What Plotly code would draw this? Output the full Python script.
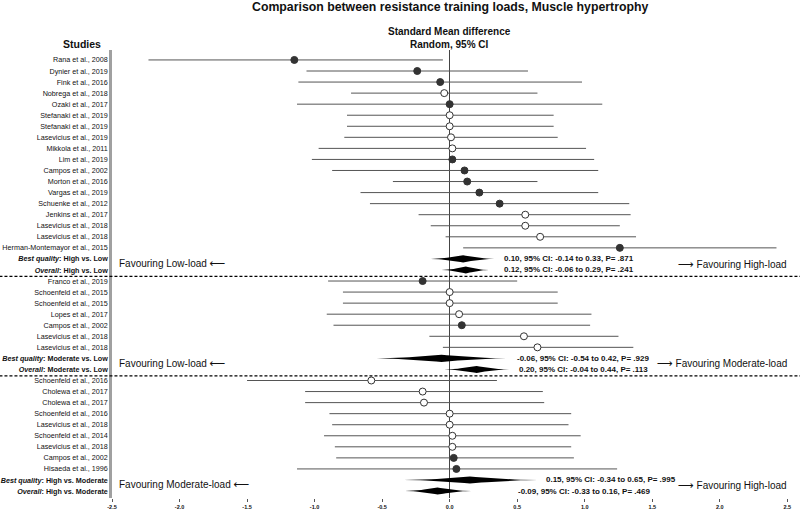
import plotly.graph_objects as go

# ---------------- data ----------------
studies = [
    "Rana et al., 2008", "Dynier et al., 2019", "Fink et al., 2016", "Nobrega et al., 2018",
    "Ozaki et al., 2017", "Stefanaki et al., 2019", "Stefanaki et al., 2019", "Lasevicius et al., 2019",
    "Mikkola et al., 2011", "Lim et al., 2019", "Campos et al., 2002", "Morton et al., 2016",
    "Vargas et al., 2019", "Schuenke et al., 2012", "Jenkins et al., 2017", "Lasevicius et al., 2018",
    "Lasevicius et al., 2018", "Herman-Montemayor et al., 2015",
    "Franco et al., 2019", "Schoenfeld et al., 2015", "Schoenfeld et al., 2015", "Lopes et al., 2017",
    "Campos et al., 2002", "Lasevicius et al., 2018", "Lasevicius et al., 2018",
    "Schoenfeld et al., 2016", "Cholewa et al., 2017", "Cholewa et al., 2017", "Schoenfeld et al., 2016",
    "Lasevicius et al., 2018", "Schoenfeld et al., 2014", "Lasevicius et al., 2018", "Campos et al., 2002",
    "Hisaeda et al., 1996",
]
group_sizes = [18, 7, 9]

smd = [-1.15, -0.24, -0.07, -0.04, 0.00, 0.00, 0.00, 0.01, 0.02, 0.02, 0.11, 0.13, 0.22, 0.37,
       0.56, 0.56, 0.67, 1.26,
       -0.20, 0.00, 0.00, 0.07, 0.09, 0.55, 0.65,
       -0.58, -0.20, -0.19, 0.00, 0.00, 0.02, 0.02, 0.03, 0.05]
ci_low = [-2.23, -1.06, -1.12, -0.73, -1.13, -0.76, -0.76, -0.78, -0.97, -1.02, -0.87, -0.42, -0.66, -0.59,
          -0.23, -0.14, -0.03, 0.10,
          -0.90, -0.79, -0.79, -0.91, -0.86, -0.15, -0.05,
          -1.50, -1.07, -1.07, -0.89, -0.87, -0.93, -0.85, -0.84, -1.13]
ci_high = [-0.05, 0.58, 0.98, 0.65, 1.13, 0.77, 0.77, 0.80, 1.01, 1.07, 1.10, 0.65, 1.10, 1.33,
           1.34, 1.26, 1.38, 2.42,
           0.50, 0.80, 0.80, 1.05, 1.04, 1.25, 1.36,
           0.35, 0.69, 0.70, 0.90, 0.88, 0.97, 0.90, 0.92, 1.24]
solid = [1, 1, 1, 0, 1, 0, 0, 0, 0, 1, 1, 1, 1, 1, 0, 0, 0, 1,
         1, 0, 0, 0, 1, 0, 0,
         0, 0, 0, 0, 0, 0, 0, 1, 1]

summary_kind = ["Best quality", "Overall", "Best quality", "Overall", "Best quality", "Overall"]
summary_comp = ["High vs. Low", "High vs. Low", "Moderate vs. Low", "Moderate vs. Low",
                "High vs. Moderate", "High vs. Moderate"]
summary_smd = [0.10, 0.12, -0.06, 0.20, 0.15, -0.09]
summary_low = [-0.14, -0.06, -0.54, -0.04, -0.34, -0.33]
summary_high = [0.33, 0.29, 0.42, 0.44, 0.65, 0.16]
summary_p = [".871", ".241", ".929", ".113", ".995", ".469"]

favour_left = ["Favouring Low-load", "Favouring Low-load", "Favouring Moderate-load"]
favour_right = ["Favouring High-load", "Favouring Moderate-load", "Favouring High-load"]

x_ticks = [-2.5, -2.0, -1.5, -1.0, -0.5, 0.0, 0.5, 1.0, 1.5, 2.0, 2.5]

# ---------------- layout of rows ----------------
FONT = "Liberation Sans, Arial, sans-serif"
ARROW = "font-family:DejaVu Sans;font-size:11px"
study_rows, summary_rows, dash_rows = [], [], []
row = 0
for g in group_sizes:
    for _ in range(g):
        study_rows.append(row)
        row += 1
    summary_rows += [row, row + 1]
    row += 2
    dash_rows.append(row - 0.42)
dash_rows = dash_rows[:-1]

tickvals = study_rows + summary_rows
ticktext = list(studies) + [f"<b><i>{a}</i>: {b}</b>" for a, b in zip(summary_kind, summary_comp)]

fig = go.Figure()

# CI lines
lx, ly = [], []
for r, lo, hi in zip(study_rows, ci_low, ci_high):
    lx += [lo, hi, None]
    ly += [r, r, None]
fig.add_trace(go.Scatter(x=lx, y=ly, mode="lines", line=dict(color="#555555", width=1),
                         hoverinfo="skip", showlegend=False))

# markers
fx = [v for v, s in zip(smd, solid) if s]
fy = [r for r, s in zip(study_rows, solid) if s]
ox = [v for v, s in zip(smd, solid) if not s]
oy = [r for r, s in zip(study_rows, solid) if not s]
fig.add_trace(go.Scatter(x=fx, y=fy, mode="markers", showlegend=False,
                         marker=dict(size=7, color="#333333", line=dict(color="#333333", width=1))))
fig.add_trace(go.Scatter(x=ox, y=oy, mode="markers", showlegend=False,
                         marker=dict(size=7, color="white", line=dict(color="#333333", width=1))))

# diamonds
h = 0.32
n = 12
for r, est, lo, hi in zip(summary_rows, summary_smd, summary_low, summary_high):
    xs, ys = [], []
    for i in range(n + 1):
        t = i / n
        xs.append(lo + (est - lo) * t)
        ys.append(r - h * t ** 1.7)
    for i in range(n, -1, -1):
        t = i / n
        xs.append(hi - (hi - est) * t)
        ys.append(r - h * t ** 1.7)
    for i in range(n + 1):
        t = i / n
        xs.append(hi - (hi - est) * t)
        ys.append(r + h * t ** 1.7)
    for i in range(n, -1, -1):
        t = i / n
        xs.append(lo + (est - lo) * t)
        ys.append(r + h * t ** 1.7)
    fig.add_trace(go.Scatter(x=xs, y=ys, mode="lines", fill="toself", fillcolor="black",
                             line=dict(width=0, color="black"), hoverinfo="skip", showlegend=False))

annotations = []
# summary statistics text
stat_x = [0.39, 0.39, 0.485, 0.50, 0.70, 0.49]
for r, est, lo, hi, p, sx in zip(summary_rows, summary_smd, summary_low, summary_high, summary_p, stat_x):
    annotations.append(dict(x=sx, y=r, xref="x", yref="y", xanchor="left", yanchor="middle",
                            text=f"<b>{est:.2f}, 95% CI: {lo:.2f} to {hi:.2f}, P= {p}</b>",
                            showarrow=False, font=dict(size=8, color="#111", family=FONT)))
# favouring labels
for gi, (fl, fr) in enumerate(zip(favour_left, favour_right)):
    ymid = (summary_rows[2 * gi] + summary_rows[2 * gi + 1]) / 2
    annotations.append(dict(x=0.008, y=ymid - 0.05, xref="paper", yref="y", xanchor="left", yanchor="middle",
                            text=f"{fl} <span style='{ARROW}'>⟵</span>", showarrow=False,
                            font=dict(size=10, color="#111", family=FONT)))
    annotations.append(dict(x=2.51, y=ymid, xref="x", yref="y", xanchor="right", yanchor="middle",
                            text=f"<span style='{ARROW}'>⟶</span> {fr}", showarrow=False,
                            font=dict(size=10, color="#111", family=FONT)))

annotations.append(dict(x=0, y=1.096, xref="x", yref="paper", xanchor="center", yanchor="middle",
                        text="<b>Comparison between resistance training loads, Muscle hypertrophy</b>",
                        showarrow=False, font=dict(size=12.3, color="#111", family=FONT)))
annotations.append(dict(x=0, y=1.027, xref="x", yref="paper", xanchor="center", yanchor="middle",
                        text="<b>Standard Mean difference<br>Random, 95% CI</b>",
                        showarrow=False, font=dict(size=10, color="#111", family=FONT)))
annotations.append(dict(x=-0.044, y=1.013, xref="paper", yref="paper", xanchor="center", yanchor="middle",
                        text="<b>Studies</b>", showarrow=False, font=dict(size=10.5, color="#111", family=FONT)))

shapes = []
for d in dash_rows:
    shapes.append(dict(type="line", xref="paper", yref="y", x0=-0.166, x1=1.015, y0=d, y1=d,
                       line=dict(color="black", width=1.3, dash="3px,2px")))

fig.update_layout(
    width=800, height=512,
    margin=dict(l=112, r=10, t=50, b=14, autoexpand=False),
    paper_bgcolor="white", plot_bgcolor="white",
    annotations=annotations, shapes=shapes,
    font=dict(family=FONT, color="#111"),
    xaxis=dict(range=[-2.5, 2.52], tickvals=x_ticks, ticktext=[f"{v:.1f}" for v in x_ticks],
               tickfont=dict(size=5.5, weight="bold", family=FONT), ticks="outside", ticklen=3,
               tickcolor="#555", showgrid=False, showline=False, automargin=False,
               zeroline=True, zerolinecolor="#444", zerolinewidth=1),
    yaxis=dict(range=[39.63, -0.9], tickvals=tickvals, ticktext=ticktext, automargin=False,
               tickfont=dict(size=7.2, family=FONT, color="#111"), ticks="", showgrid=False,
               zeroline=False, showline=True, linecolor="#a0a0a0", linewidth=2.5),
)

fig.write_html("out.html", config={"displayModeBar": False},
               post_script="document.body.style.margin='0';document.body.style.overflow='hidden';")
